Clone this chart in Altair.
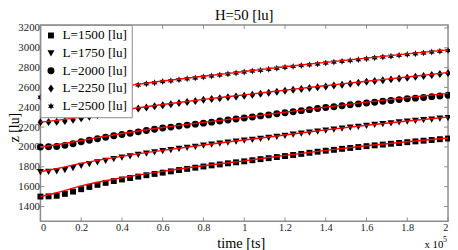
import altair as alt
import pandas as pd

TITLE = "H=50 [lu]"
X_TITLE = "time [ts]"
Y_TITLE = "z [lu]"
SERIES = ["L=1500 [lu]", "L=1750 [lu]", "L=2000 [lu]", "L=2250 [lu]", "L=2500 [lu]"]

TIME = [0.00, 0.04, 0.08, 0.12, 0.16, 0.20, 0.24, 0.28, 0.32, 0.36,
        0.40, 0.44, 0.48, 0.52, 0.56, 0.60, 0.64, 0.68, 0.72, 0.76,
        0.80, 0.84, 0.88, 0.92, 0.96, 1.00, 1.04, 1.08, 1.12, 1.16,
        1.20, 1.24, 1.28, 1.32, 1.36, 1.40, 1.44, 1.48, 1.52, 1.56,
        1.60, 1.64, 1.68, 1.72, 1.76, 1.80, 1.84, 1.88, 1.92, 1.96, 2.00]

Z_1500 = [1500, 1502, 1508, 1527, 1550, 1574, 1597, 1618, 1638, 1656,
          1672, 1687, 1701, 1715, 1728, 1741, 1754, 1767, 1779, 1791,
          1803, 1814, 1824, 1835, 1845, 1855, 1866, 1877, 1887, 1898,
          1908, 1919, 1930, 1941, 1952, 1962, 1971, 1981, 1990, 1999,
          2008, 2016, 2024, 2032, 2040, 2048, 2056, 2063, 2070, 2078, 2085]
Z_1750 = [1750, 1752, 1757, 1770, 1790, 1812, 1830, 1848, 1864, 1880,
          1895, 1909, 1923, 1936, 1949, 1961, 1972, 1983, 1994, 2005,
          2016, 2026, 2036, 2046, 2056, 2066, 2076, 2086, 2096, 2106,
          2116, 2127, 2138, 2149, 2159, 2169, 2178, 2188, 2197, 2207,
          2216, 2225, 2233, 2242, 2250, 2258, 2266, 2273, 2280, 2288, 2295]
Z_2000 = [2000, 2001, 2005, 2016, 2033, 2052, 2068, 2083, 2098, 2112,
          2125, 2139, 2152, 2165, 2178, 2190, 2200, 2210, 2220, 2230,
          2240, 2250, 2261, 2271, 2282, 2292, 2302, 2313, 2323, 2334,
          2344, 2355, 2366, 2376, 2387, 2397, 2406, 2415, 2425, 2434,
          2443, 2451, 2460, 2468, 2477, 2485, 2492, 2499, 2507, 2514, 2521]
Z_2250 = [2250, 2251, 2254, 2262, 2274, 2289, 2305, 2321, 2336, 2350,
          2364, 2376, 2387, 2398, 2409, 2420, 2431, 2442, 2453, 2464,
          2475, 2484, 2492, 2500, 2509, 2517, 2527, 2537, 2547, 2557,
          2567, 2576, 2584, 2593, 2601, 2610, 2619, 2628, 2638, 2647,
          2656, 2664, 2673, 2681, 2690, 2698, 2707, 2716, 2726, 2735, 2744]
Z_2500 = [2500, 2501, 2505, 2515, 2530, 2545, 2558, 2570, 2580, 2590,
          2600, 2612, 2624, 2636, 2648, 2659, 2668, 2677, 2687, 2696,
          2705, 2715, 2725, 2735, 2745, 2755, 2765, 2774, 2784, 2793,
          2803, 2812, 2820, 2829, 2837, 2846, 2855, 2863, 2872, 2880,
          2889, 2898, 2906, 2915, 2923, 2932, 2940, 2948, 2956, 2964, 2972]

FIT_TIME = [0.0, 0.08, 0.2, 0.4, 0.6, 0.8, 1.0, 1.2, 1.4, 1.6, 1.8, 2.0]
FIT_1500 = [1500, 1538, 1607, 1689, 1754, 1810, 1860, 1915, 1966, 2012, 2052, 2090]
FIT_1750 = [1750, 1782, 1835, 1905, 1966, 2020, 2070, 2120, 2172, 2219, 2262, 2300]
FIT_2000 = [2000, 2022, 2065, 2135, 2196, 2247, 2297, 2350, 2402, 2452, 2497, 2540]
FIT_2250 = [2250, 2268, 2300, 2370, 2428, 2480, 2525, 2573, 2618, 2662, 2705, 2750]
FIT_2500 = [2500, 2518, 2555, 2608, 2665, 2712, 2760, 2808, 2852, 2895, 2938, 2978]

X_TICKS = [0, 0.2, 0.4, 0.6, 0.8, 1.0, 1.2, 1.4, 1.6, 1.8, 2.0]
Y_TICKS = [1400, 1600, 1800, 2000, 2200, 2400, 2600, 2800, 3000, 3200]

SHAPES = [
    "M-0.85,-0.85 L0.85,-0.85 L0.85,0.85 L-0.85,0.85 Z",
    "M-1,-0.8 L1,-0.8 L0,1 Z",
    "circle",
    "M0,-1.15 L0.8,0 L0,1.15 L-0.8,0 Z",
    "M0,-1 L0.25,-0.433 L0.866,-0.5 L0.5,0 L0.866,0.5 L0.25,0.433 L0,1 "
    "L-0.25,0.433 L-0.866,0.5 L-0.5,0 L-0.866,-0.5 L-0.25,-0.433 Z",
]

FONT = "Liberation Serif"
GRAY = "#8c8c8c"
W, H = 415, 200

Z_ALL = [Z_1500, Z_1750, Z_2000, Z_2250, Z_2500]
FIT_ALL = [FIT_1500, FIT_1750, FIT_2000, FIT_2250, FIT_2500]

pts = pd.DataFrame(
    [{"t": t, "z": z, "series": s} for s, zs in zip(SERIES, Z_ALL) for t, z in zip(TIME, zs)]
)
fits = pd.DataFrame(
    [{"t": t, "z": z, "series": s} for s, zs in zip(SERIES, FIT_ALL) for t, z in zip(FIT_TIME, zs)]
)

x_scale = alt.Scale(domain=[0, 2], nice=False, zero=False)
y_scale = alt.Scale(domain=[1250, 3230], nice=False, zero=False)

X = alt.X("t:Q", scale=x_scale,
          axis=alt.Axis(values=X_TICKS, format="~g", title=X_TITLE,
                        titleX=204, titleY=27, titleBaseline="alphabetic",
                        labelPadding=1, labelFontSize=10.5, titleFontSize=14.5))
Y = alt.Y("z:Q", scale=y_scale,
          axis=alt.Axis(values=Y_TICKS, format="d", title=Y_TITLE,
                        titleX=-22, titleY=104, titleBaseline="alphabetic",
                        titleAngle=-90, titleAlign="center",
                        labelPadding=1, titleFontSize=14))

points = alt.Chart(pts).mark_point(filled=True, size=50, opacity=1, color="black").encode(
    x=X, y=Y,
    shape=alt.Shape("series:N",
                    scale=alt.Scale(domain=SERIES, range=SHAPES),
                    legend=alt.Legend(title=None, orient="none", legendX=0, legendY=0,
                                      fillColor="white", strokeColor="#8a8a8a",
                                      padding=4, labelFont=FONT, labelFontSize=13.5,
                                      labelColor="black", rowPadding=3,
                                      symbolSize=50, symbolFillColor="black",
                                      symbolStrokeWidth=0, labelOffset=5)),
)

fit_lines = alt.Chart(fits).mark_line(color="red", strokeWidth=1.4, interpolate="monotone").encode(
    x=X, y=Y, detail="series:N"
)

xt = pd.DataFrame({"t": X_TICKS})
yt = pd.DataFrame({"z": Y_TICKS})
tick_b = alt.Chart(xt).mark_rule(color=GRAY, strokeWidth=1).encode(x=X, y=alt.value(H), y2=alt.value(H - 4))
tick_t = alt.Chart(xt).mark_rule(color=GRAY, strokeWidth=1).encode(x=X, y=alt.value(0), y2=alt.value(4))
tick_l = alt.Chart(yt).mark_rule(color=GRAY, strokeWidth=1).encode(y=Y, x=alt.value(0), x2=alt.value(4))
tick_r = alt.Chart(yt).mark_rule(color=GRAY, strokeWidth=1).encode(y=Y, x=alt.value(W), x2=alt.value(W - 4))

title_txt = alt.Chart(pd.DataFrame({"s": [TITLE]})).mark_text(
    font=FONT, fontSize=15, align="center", baseline="alphabetic", color="black"
).encode(x=alt.value(W / 2), y=alt.value(-5), text="s:N")

exp_base = alt.Chart(pd.DataFrame({"s": ["x 10"]})).mark_text(
    font=FONT, fontSize=11, align="left", baseline="alphabetic", color="black"
).encode(x=alt.value(391), y=alt.value(227), text="s:N")
exp_sup = alt.Chart(pd.DataFrame({"s": ["5"]})).mark_text(
    font=FONT, fontSize=8, align="left", baseline="alphabetic", color="black"
).encode(x=alt.value(410), y=alt.value(221), text="s:N")

chart = alt.layer(points, fit_lines, tick_b, tick_t, tick_l, tick_r,
                  title_txt, exp_base, exp_sup).properties(
    width=W, height=H,
    padding={"left": 33, "top": 15, "right": 2, "bottom": 30},
    autosize="none",
).configure_view(
    stroke=GRAY, strokeWidth=1.5
).configure_axis(
    domain=False, ticks=False, grid=False,
    labelFont=FONT, labelFontSize=11, labelColor="#222222",
    titleFont=FONT, titleFontWeight="normal", titleColor="black",
)

chart.save("out.html", embed_options={"renderer": "svg", "actions": False})
